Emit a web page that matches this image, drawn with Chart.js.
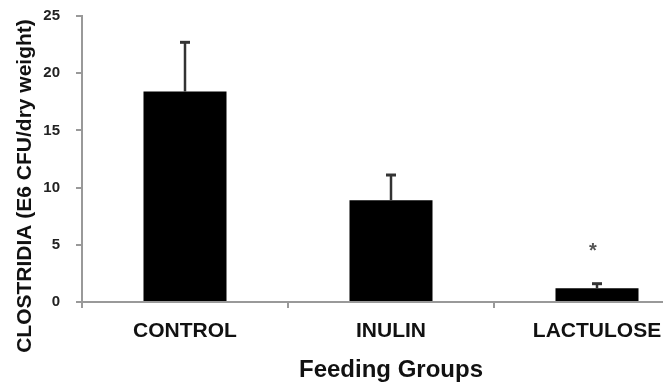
<!DOCTYPE html>
<html>
<head>
<meta charset="utf-8">
<script src="https://cdn.jsdelivr.net/npm/chart.js@4.4.1/dist/chart.umd.min.js"></script>
<style>
    html, body { margin: 0; padding: 0; background: #fff; overflow: hidden; }
    #wrap { width: 663px; height: 388px; overflow: hidden; }
</style>
</head>
<body>
<div id="wrap"><canvas id="myChart" width="712" height="388"></canvas></div>
<script>

// data
let groups = ['CONTROL', 'INULIN', 'LACTULOSE'];
let means = [18.4, 8.9, 1.2];          // bar heights (E6 CFU/dry weight)
let errTop = [22.7, 11.1, 1.6];        // top of the error bars
let stars = [null, null, 4.8];         // significance mark position
let yTicks = [0, 5, 10, 15, 20, 25];

let yTitle = 'CLOSTRIDIA (E6 CFU/dry weight)';
let xTitle = 'Feeding Groups';

const fontFam = "'Liberation Sans', Arial, sans-serif";

// error bars + asterisk, drawn through the chart scales
const errorBars = {
    id: 'errorBars',
    afterDatasetsDraw(chart) {
        let ctx = chart.ctx;
        let xs = chart.scales.x;
        let ys = chart.scales.y;
        ctx.save();
        ctx.strokeStyle = '#333';
        ctx.fillStyle = '#555';
        for (let i = 0; i < groups.length; i++) {
            let x = xs.getPixelForValue(i);
            let yb = ys.getPixelForValue(means[i]);
            let yt = ys.getPixelForValue(errTop[i]);
            ctx.lineWidth = 2.5;
            ctx.beginPath();
            ctx.moveTo(x, yb);
            ctx.lineTo(x, yt);
            ctx.stroke();
            ctx.lineWidth = 3;
            ctx.beginPath();
            ctx.moveTo(x - 5, yt);
            ctx.lineTo(x + 5, yt);
            ctx.stroke();
            if (stars[i] != null) {
                ctx.font = 'bold 20px ' + fontFam;
                ctx.textAlign = 'center';
                ctx.textBaseline = 'middle';
                ctx.fillText('*', x - 4, ys.getPixelForValue(stars[i]) + 4);
            }
        }
        ctx.restore();
    }
};

// axis titles, placed by hand
const axisTitles = {
    id: 'axisTitles',
    afterDraw(chart) {
        let ctx = chart.ctx;
        let area = chart.chartArea;
        ctx.save();
        ctx.fillStyle = '#111';
        ctx.textAlign = 'center';
        ctx.textBaseline = 'alphabetic';
        ctx.font = 'bold 24px ' + fontFam;
        ctx.fillText(xTitle, (area.left + area.right) / 2, 377);
        ctx.translate(31, 186);
        ctx.rotate(-Math.PI / 2);
        ctx.font = 'bold 21px ' + fontFam;
        ctx.fillText(yTitle, 0, 0);
        ctx.restore();
    }
};

myChart = new Chart(document.getElementById('myChart'), {
    type: 'bar',
    data: {
        labels: groups,
        datasets: [{
            data: means,
            backgroundColor: '#000',
            borderWidth: 0,
            categoryPercentage: 1.0,
            barPercentage: 0.403
        }]
    },
    options: {
        responsive: false,
        animation: false,
        layout: { padding: { top: 16, right: 12, left: 0, bottom: 0 } },
        plugins: {
            legend: { display: false },
            tooltip: { enabled: false }
        },
        scales: {
            x: {
                grid: { drawOnChartArea: false, offset: true, tickLength: 6, color: '#999', lineWidth: 2 },
                border: { color: '#999', width: 2 },
                ticks: { font: { family: fontFam, size: 21, weight: 'bold' }, color: '#111', padding: 11 },
                afterFit: s => { s.height = 86; s.paddingLeft = 0; s.paddingRight = 0; }
            },
            y: {
                min: 0,
                max: 25,
                afterBuildTicks: s => { s.ticks = yTicks.map(v => ({ value: v })); },
                grid: { drawOnChartArea: false, tickLength: 6, color: '#999', lineWidth: 2 },
                border: { color: '#999', width: 2 },
                ticks: { font: { family: fontFam, size: 15, weight: 'bold' }, color: '#222', padding: 16 },
                afterFit: s => { s.width = 82; s.paddingTop = 0; s.paddingBottom = 0; }
            }
        }
    },
    plugins: [errorBars, axisTitles]
});

</script>
</body>
</html>
